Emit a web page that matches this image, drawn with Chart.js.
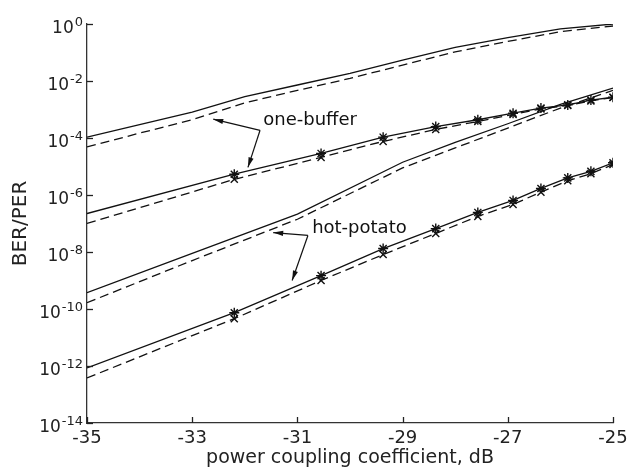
<!DOCTYPE html>
<html><head><meta charset="utf-8">
<script src="https://cdn.jsdelivr.net/npm/chart.js@4/dist/chart.umd.min.js"></script>
<style>html,body{margin:0;padding:0;background:#fff}#wrap{width:641px;height:473px}</style>
</head><body><div id="wrap"><canvas id="c" width="641" height="473"></canvas></div>
<script>
// power coupling coefficient (dB) sample points
const couplingDb = [-35, -34, -33, -32, -31, -30, -29, -28, -27, -26, -25];
const oneBufferSolid = [1.07e-4, 2.95e-4, 8.13e-4, 2.82e-3, 7.24e-3, 1.86e-2, 5.37e-2, 0.151, 0.331, 0.676, 1.0];
const oneBufferDashed = [4.9e-5, 1.48e-4, 4.37e-4, 1.70e-3, 4.68e-3, 1.23e-2, 3.63e-2, 0.105, 0.245, 0.537, 0.851];

const markerDb = [-35, -32.2, -30.55, -29.37, -28.37, -27.57, -26.9, -26.37, -25.86, -25.42, -25];
const oneBufferSimSolid = [2.24e-7, 5.37e-6, 2.88e-5, 1.07e-4, 2.51e-4, 4.37e-4, 7.41e-4, 1.12e-3, 1.45e-3, 2.14e-3, 2.69e-3];
const oneBufferSimDashed = [1.0e-7, 3.55e-6, 2.09e-5, 7.59e-5, 2.0e-4, 3.8e-4, 6.76e-4, 1.05e-3, 1.38e-3, 2.0e-3, 2.63e-3];

const hotPotatoDb = [-35, -33, -31, -29, -28, -27, -26, -25];
const hotPotatoSolid = [3.72e-10, 8.91e-9, 2.14e-7, 1.41e-5, 7.08e-5, 3.16e-4, 1.51e-3, 5.62e-3];
const hotPotatoDashed = [1.66e-10, 5.01e-9, 1.41e-7, 8.91e-6, 4.47e-5, 2.24e-4, 1.12e-3, 4.68e-3];

const hotPotatoSimSolid = [8.51e-13, 7.41e-11, 1.48e-9, 1.32e-8, 6.61e-8, 2.45e-7, 6.46e-7, 1.70e-6, 3.98e-6, 6.76e-6, 1.35e-5];
const hotPotatoSimDashed = [3.80e-13, 4.57e-11, 1.0e-9, 8.13e-9, 4.47e-8, 1.78e-7, 4.68e-7, 1.26e-6, 3.16e-6, 5.62e-6, 1.17e-5];

const xTickValues = [-35, -33, -31, -29, -27, -25];
const yTickExponents = [0, -2, -4, -6, -8, -10, -12, -14];

const xTitle = 'power coupling coefficient, dB';
const yTitle = 'BER/PER';

// annotation labels (data coordinates: dB, BER)
const annotations = [
  { text: 'one-buffer', at: [-31.65, 10 ** -3.38], from: [-31.71, 10 ** -3.73],
    tips: [[-32.6, 10 ** -3.34], [-31.94, 10 ** -5.03]] },
  { text: 'hot-potato', at: [-30.72, 10 ** -7.18], from: [-30.8, 10 ** -7.42],
    tips: [[-31.46, 10 ** -7.32], [-31.1, 10 ** -9.0]] }
];

const FONT = '"DejaVu Sans", sans-serif';
const INK = '#111';

function pts(xs, ys) { return xs.map((x, i) => ({ x: x, y: ys[i] })); }
function radii(n) { return Array.from({ length: n }, (_, i) => i === 0 ? 0 : 5); }

const solidStyle = { borderColor: INK, borderWidth: 1.3, pointRadius: 0, fill: false, tension: 0 };
const dashedStyle = { borderColor: INK, borderWidth: 1.3, borderDash: [9, 5], pointRadius: 0, fill: false, tension: 0 };

const datasets = [
  Object.assign({ data: pts(couplingDb, oneBufferSolid) }, solidStyle),
  Object.assign({ data: pts(couplingDb, oneBufferDashed) }, dashedStyle),
  Object.assign({ data: pts(markerDb, oneBufferSimSolid) }, solidStyle,
    { pointStyle: 'star', pointRadius: radii(markerDb.length), pointBorderColor: INK, pointBorderWidth: 1.4 }),
  Object.assign({ data: pts(markerDb, oneBufferSimDashed) }, dashedStyle,
    { pointStyle: 'crossRot', pointRadius: radii(markerDb.length), pointBorderColor: INK, pointBorderWidth: 1.4 }),
  Object.assign({ data: pts(hotPotatoDb, hotPotatoSolid) }, solidStyle),
  Object.assign({ data: pts(hotPotatoDb, hotPotatoDashed) }, dashedStyle),
  Object.assign({ data: pts(markerDb, hotPotatoSimSolid) }, solidStyle,
    { pointStyle: 'star', pointRadius: radii(markerDb.length), pointBorderColor: INK, pointBorderWidth: 1.4 }),
  Object.assign({ data: pts(markerDb, hotPotatoSimDashed) }, dashedStyle,
    { pointStyle: 'crossRot', pointRadius: radii(markerDb.length), pointBorderColor: INK, pointBorderWidth: 1.4 })
];

const decorPlugin = {
  id: 'decor',
  afterDraw(chart) {
    const ctx = chart.ctx;
    const xs = chart.scales.x, ys = chart.scales.y;
    ctx.save();
    ctx.strokeStyle = '#222';
    ctx.fillStyle = '#222';
    ctx.lineWidth = 1.3;
    // y ticks (inward) with 10^n labels
    ys.ticks.forEach(t => {
      const y = Math.round(ys.getPixelForValue(t.value)) + 0.5;
      ctx.beginPath(); ctx.moveTo(ys.right, y); ctx.lineTo(ys.right + 6, y); ctx.stroke();
      const exp = String(Math.round(Math.log10(t.value)));
      ctx.textAlign = 'right'; ctx.textBaseline = 'alphabetic';
      ctx.font = '13px ' + FONT;
      const ew = ctx.measureText(exp).width;
      ctx.fillText(exp, ys.right - 4, y + 1);
      ctx.font = '17px ' + FONT;
      ctx.fillText('10', ys.right - 5 - ew, y + 8);
    });
    // x ticks (inward)
    xs.ticks.forEach(t => {
      const x = Math.round(xs.getPixelForValue(t.value)) + 0.5;
      ctx.beginPath(); ctx.moveTo(x, xs.top); ctx.lineTo(x, xs.top - 6); ctx.stroke();
    });
    // annotations
    ctx.strokeStyle = INK; ctx.fillStyle = INK; ctx.lineWidth = 1.2;
    annotations.forEach(a => {
      const ox = xs.getPixelForValue(a.from[0]), oy = ys.getPixelForValue(a.from[1]);
      a.tips.forEach(tp => {
        const tx = xs.getPixelForValue(tp[0]), ty = ys.getPixelForValue(tp[1]);
        ctx.beginPath(); ctx.moveTo(ox, oy); ctx.lineTo(tx, ty); ctx.stroke();
        const ang = Math.atan2(ty - oy, tx - ox), L = 10, W = 2.6;
        const bx = tx - L * Math.cos(ang), by = ty - L * Math.sin(ang);
        ctx.beginPath();
        ctx.moveTo(tx, ty);
        ctx.lineTo(bx + W * Math.sin(ang), by - W * Math.cos(ang));
        ctx.lineTo(bx - W * Math.sin(ang), by + W * Math.cos(ang));
        ctx.closePath(); ctx.fill();
      });
      ctx.font = '18px ' + FONT;
      ctx.textAlign = 'left'; ctx.textBaseline = 'middle';
      ctx.fillText(a.text, xs.getPixelForValue(a.at[0]), ys.getPixelForValue(a.at[1]));
    });
    ctx.restore();
  }
};

new Chart(document.getElementById('c'), {
  type: 'line',
  data: { datasets: datasets },
  options: {
    responsive: false,
    devicePixelRatio: 1,
    animation: false,
    layout: { padding: { top: 24, right: 28, left: 0, bottom: 0 } },
    plugins: { legend: { display: false }, tooltip: { enabled: false } },
    scales: {
      x: {
        type: 'linear', min: -35, max: -25,
        afterBuildTicks: s => { s.ticks = xTickValues.map(v => ({ value: v })); },
        afterFit: s => { s.height = 50; },
        grid: { display: false, drawTicks: false },
        border: { display: true, color: '#333', width: 1.3 },
        ticks: { color: '#222', font: { family: FONT, size: 18 }, padding: 5, maxRotation: 0 },
        title: { display: true, text: xTitle, color: '#222', font: { family: FONT, size: 19 }, padding: { top: 0, bottom: 4 } }
      },
      y: {
        type: 'logarithmic', min: 1e-14, max: 1,
        afterBuildTicks: s => { s.ticks = yTickExponents.map(e => ({ value: Math.pow(10, e) })); },
        afterFit: s => { s.width = 87; },
        grid: { display: false, drawTicks: false },
        border: { display: true, color: '#333', width: 1.3 },
        ticks: { display: false },
        title: { display: true, text: yTitle, color: '#222', font: { family: FONT, size: 20 }, padding: { top: 9, bottom: 0 } }
      }
    }
  },
  plugins: [decorPlugin]
});
</script>
</body></html>
